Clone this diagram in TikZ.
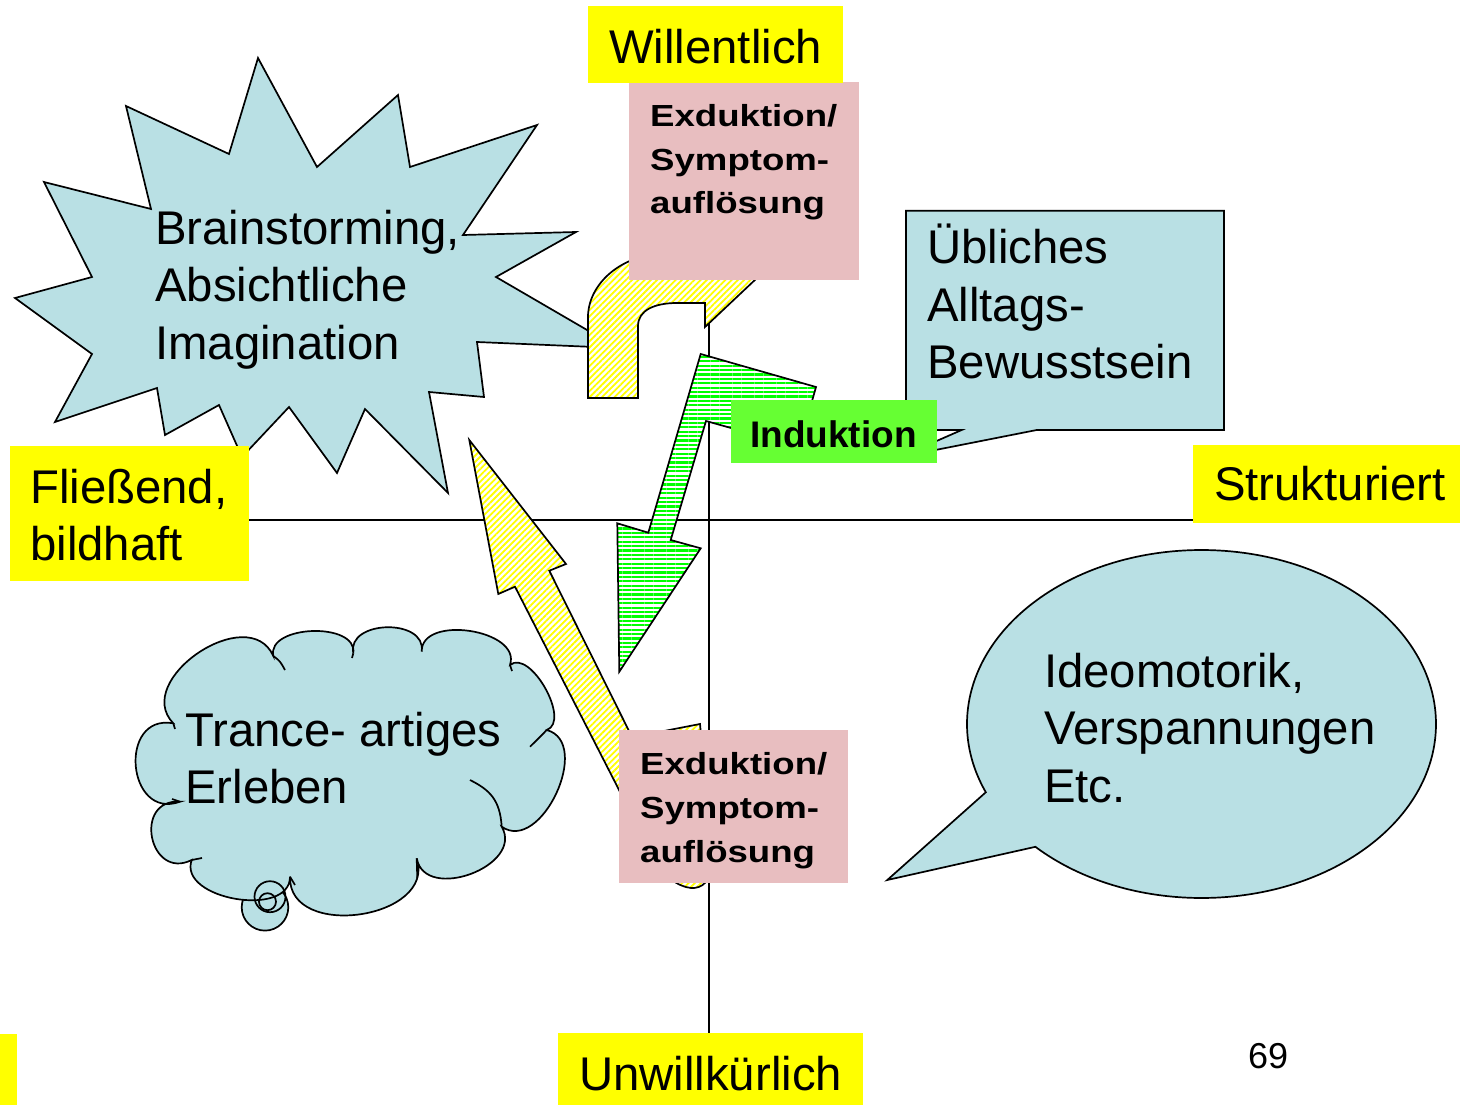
\documentclass[tikz,border=0pt]{standalone}
\usepackage{fontspec}
\setmainfont{Liberation Sans}
\newfontfamily\exfont{Liberation Sans}[FakeStretch=1.2]
\usetikzlibrary{calc,patterns.meta}
\definecolor{lblue}{RGB}{185,224,228}
\definecolor{lpink}{RGB}{232,190,192}
\definecolor{lgreen}{RGB}{102,255,51}
\definecolor{hgreen}{RGB}{0,255,0}
\definecolor{hyellow}{RGB}{255,255,0}
\begin{document}
\begin{tikzpicture}[x=1pt,y=1pt,
  outl/.style={draw=black, line width=1.7pt, line join=miter},
  blueshape/.style={outl, fill=lblue},
  axisline/.style={draw=black, line width=1.7pt},
  ypat/.style={outl, preaction={fill=white}, pattern={Lines[angle=45,distance=4.4pt,line width=1.8pt]}, pattern color=hyellow},
  gpat/.style={outl, preaction={fill=white}, pattern={Lines[angle=0,distance=4.4pt,line width=2.2pt]}, pattern color=hgreen},
  ylab/.style={fill=hyellow},
  pinkbox/.style={fill=lpink},
  txt/.style={font=\fontsize{47.3}{57.5}\selectfont, inner sep=0pt, align=left, anchor=base west},
  btxt/.style={font=\exfont\bfseries\fontsize{30.5}{44}\selectfont, inner sep=0pt, align=left, anchor=base west},
  itxt/.style={font=\bfseries\fontsize{37}{44}\selectfont, inner sep=0pt, anchor=base west},
  stub/.style={draw=black, line width=1.7pt}
]
\useasboundingbox (0,0) rectangle (1460,-1105);

% axes
\coordinate (axL) at (249,-520);
\coordinate (axR) at (1193,-520);
\coordinate (axT) at (709,-83);
\coordinate (axB) at (709,-1033);
\draw[axisline] (axL) -- (axR);
\draw[axisline] (axT) -- (axB);

% starburst
\path[blueshape] (258,-58) -- (317,-167) -- (398,-95) -- (410,-167) -- (537,-125) -- (463,-235) -- (576,-232) -- (496,-277) -- (618,-348) -- (477,-342) -- (484,-397) -- (429,-392) -- (448,-493) -- (365,-409) -- (337,-473) -- (289,-407) -- (242,-457) -- (219,-405) -- (165,-435) -- (157,-388) -- (55,-422) -- (92,-354) -- (15,-298) -- (92,-277) -- (44,-182) -- (151,-209) -- (126,-106) -- (229,-154) -- cycle;

% cloud
\path[blueshape] (265,-907.3) circle[radius=23.3];
\coordinate (c1) at (180,-801.7);
\coordinate (c2) at (173.3,-723.3);
\coordinate (c3) at (273.3,-656);
\coordinate (c4) at (353.3,-653.3);
\coordinate (c5) at (421.7,-651.7);
\coordinate (c6) at (510,-665);
\coordinate (c7) at (546.7,-730);
\coordinate (c8) at (501.7,-826.7);
\coordinate (c9) at (416.7,-858.3);
\coordinate (c10) at (290,-876.7);
\coordinate (c11) at (191.7,-860);
\path[blueshape] (c1)
  .. controls ($(c1)!0.72!105:(c2)$) and ($(c2)!0.72!-105:(c1)$) .. (c2)
  .. controls ($(c2)!0.5!100:(c3)$) and ($(c3)!0.5!-100:(c2)$) .. (c3)
  .. controls ($(c3)!0.4!100:(c4)$) and ($(c4)!0.4!-100:(c3)$) .. (c4)
  .. controls ($(c4)!0.5!100:(c5)$) and ($(c5)!0.5!-100:(c4)$) .. (c5)
  .. controls ($(c5)!0.42!100:(c6)$) and ($(c6)!0.42!-100:(c5)$) .. (c6)
  .. controls ($(c6)!0.35!100:(c7)$) and ($(c7)!0.35!-100:(c6)$) .. (c7)
  .. controls ($(c7)!0.45!100:(c8)$) and ($(c8)!0.45!-100:(c7)$) .. (c8)
  .. controls ($(c8)!0.5!100:(c9)$) and ($(c9)!0.5!-100:(c8)$) .. (c9)
  .. controls ($(c9)!0.5!100:(c10)$) and ($(c10)!0.5!-100:(c9)$) .. (c10)
  .. controls ($(c10)!0.42!100:(c11)$) and ($(c11)!0.42!-100:(c10)$) .. (c11)
  .. controls ($(c11)!0.8!105:(c1)$) and ($(c1)!0.8!-105:(c11)$) .. (c1) -- cycle;
\draw[stub] (c1) -- (172,-799);
\draw[stub] (c2) -- (175,-729);
\draw[stub] (c3) .. controls (280,-661) .. (285,-670);
\draw[stub] (c4) -- (352,-658);
\draw[stub] (c6) -- (512,-671);
\draw[stub] (c7) .. controls (540,-737) .. (530,-746.7);
\draw[stub] (c8) .. controls (500,-800) and (490,-790) .. (470,-780);
\draw[stub] (c9) -- (417.3,-878);
\draw[stub] (c10) -- (295,-885);
\draw[stub] (c11) -- (202,-858);
\draw[stub] (270,-896.7) circle[radius=15.5];
\draw[stub] (267.5,-901.7) circle[radius=8.5];

% speech ellipse
\path[blueshape] ([shift={(1201.5,-724)}]224.9:234.5 and 174) arc[start angle=224.9, end angle=563.1, x radius=234.5, y radius=174] -- (887.3,-880) -- cycle;

% rectangular callout
\path[blueshape] (906,-210.7) -- (1224,-210.7) -- (1224,-430) -- (1036.7,-430) -- (900,-457) -- (961.7,-430) -- (906,-430) -- cycle;

% top yellow bent arrow
\path[ypat] (588,-398) -- (588,-317) .. controls (588,-285) and (620,-253) .. (670,-253) -- (705,-253) -- (705,-229) -- (757,-278) -- (705,-327) -- (705,-303) -- (677,-303) .. controls (655,-303) and (638,-310) .. (638,-326) -- (638,-398) -- cycle;

% green arrow
\path[gpat] (700.7,-354) -- (816,-387) -- (799,-447) -- (706,-421) -- (670.7,-540) -- (700.7,-548.3) -- (619.3,-671.7) -- (617.3,-523.3) -- (648.3,-532.7) -- cycle;

% lower yellow arrow
\path[ypat] (469.3,-440) -- (566,-564) -- (549.3,-570.7) -- (632,-737) -- (655,-765) -- (668,-745) -- (664,-731) -- (700,-724) -- (712,-850) .. controls (716,-892) and (690,-900) .. (660,-870) -- (515,-586.7) -- (498.3,-594) -- cycle;

% pink boxes (node anchored at baseline of last line)
\fill[pinkbox] (629,-82) rectangle (859,-280);
\node[btxt] (ex1) at (650,-214) {Exduktion/\\Symptom-\\auflösung};
\fill[pinkbox] (619,-730) rectangle (848,-883);
\node[btxt] (ex2) at (640,-862.5) {Exduktion/\\Symptom-\\auflösung};

% Induktion
\fill[lgreen] (731,-400) rectangle (937,-463);
\node[itxt] (ind) at (750,-447) {Induktion};

% yellow labels
\fill[ylab] (588,-6) rectangle (843,-83);
\node[txt] (wil) at (609,-63.5) {Willentlich};
\fill[ylab] (10,-446) rectangle (249,-581);
\node[txt] (fli) at (30,-560.5) {Fließend,\\bildhaft};
\fill[ylab] (1193,-445) rectangle (1460,-523);
\node[txt] (str) at (1214,-500) {Strukturiert};
\fill[ylab] (558,-1033) rectangle (863,-1105);
\node[txt] (unw) at (579,-1090) {Unwillkürlich};
\fill[ylab] (0,-1034) rectangle (17,-1105);

% texts in shapes
\node[txt] (brain) at (155,-359) {Brainstorming,\\Absichtliche\\Imagination};
\node[txt] (trance) at (185,-803.5) {Trance- artiges\\Erleben};
\node[txt] (ideo) at (1044,-802) {Ideomotorik,\\Verspannungen\\Etc.};
\node[txt] (ueb) at (927,-378.5) {Übliches\\Alltags-\\Bewusstsein};
\node[font=\fontsize{36}{40}\selectfont, inner sep=0pt, anchor=base west] (num) at (1248,-1068) {69};
\end{tikzpicture}
\end{document}
